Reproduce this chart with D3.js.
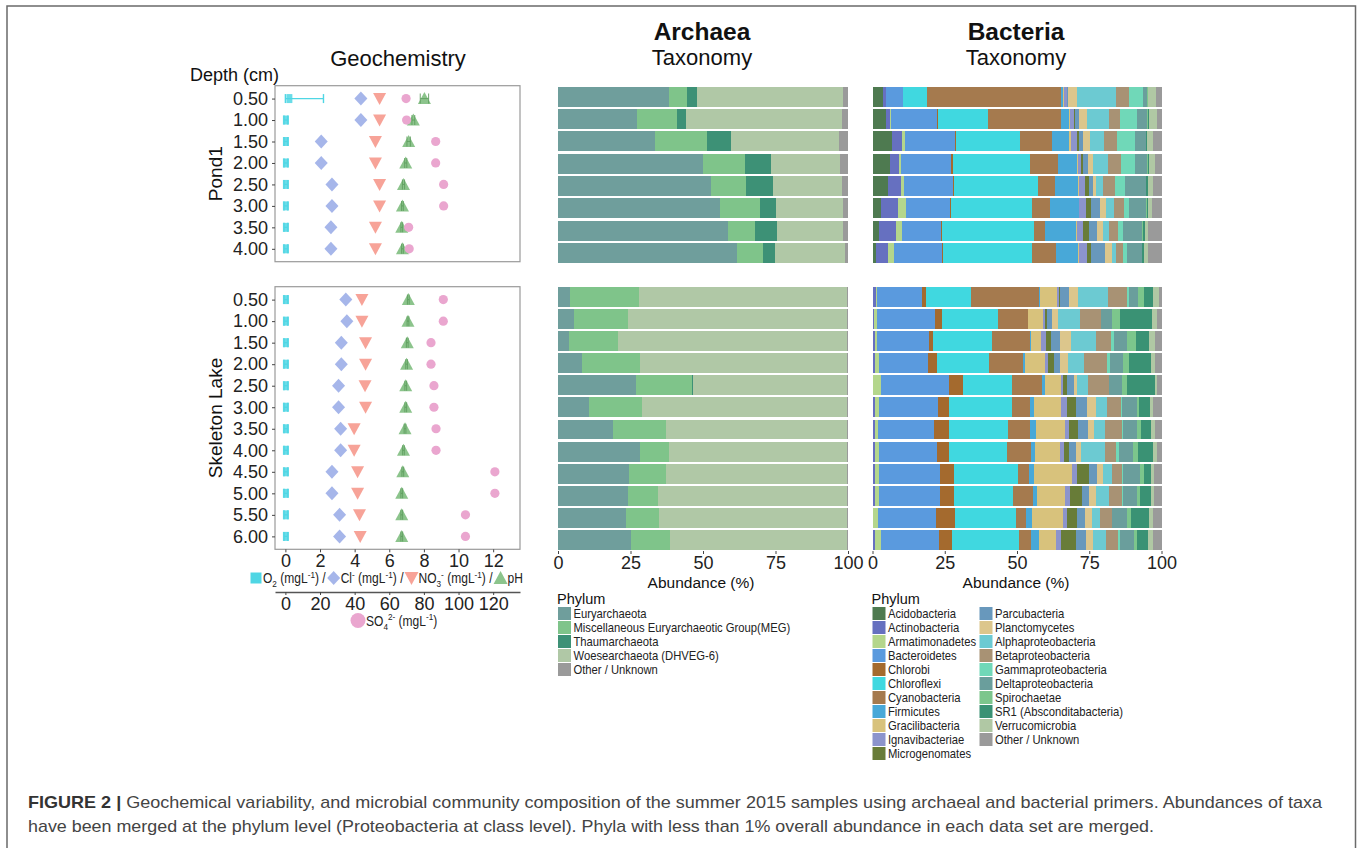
<!DOCTYPE html>
<html>
<head>
<meta charset="utf-8">
<script src="https://cdn.jsdelivr.net/npm/d3@7"></script>
<style>
  body { margin: 0; background: #fff; }
  svg text { font-family: "Liberation Sans", Arial, Helvetica, sans-serif; }
</style>
</head>
<body>
<svg id="fig" width="1360" height="848"></svg>
<script>
// ---------- depths ----------
const depthsPond = ["0.50", "1.00", "1.50", "2.00", "2.50", "3.00", "3.50", "4.00"];
const depthsSkeleton = ["0.50", "1.00", "1.50", "2.00", "2.50", "3.00", "3.50", "4.00", "4.50", "5.00", "5.50", "6.00"];

// ---------- geochemistry (O2, Cl-, NO3-, pH in their units; SO4 2- in mg/L) ----------
const o2Pond = [0.23, 0.03, 0.03, 0.03, 0.03, 0.03, 0.03, 0.03];
const o2LoPond = [0.0, -0.08, -0.08, -0.08, -0.08, -0.08, -0.08, -0.08];
const o2HiPond = [2.2, 0.14, 0.14, 0.14, 0.14, 0.14, 0.14, 0.14];
const clPond = [4.36, 4.36, 2.07, 2.07, 2.69, 2.69, 2.63, 2.63];
const no3Pond = [5.44, 5.44, 5.2, 5.2, 5.44, 5.44, 5.2, 5.2];
const phPond = [8.03, 7.39, 7.12, 6.95, 6.82, 6.76, 6.72, 6.76];
const phSdPond = [0.24, 0.08, 0.1, 0.06, 0.06, 0.05, 0.05, 0.05];
const so4Pond = [69.7, 70.0, 86.8, 86.8, 91.4, 91.4, 71.2, 71.5];

const o2Skeleton = [0.03, 0.03, 0.03, 0.03, 0.03, 0.03, 0.03, 0.03, 0.03, 0.03, 0.03, 0.03];
const o2LoSkeleton = [-0.08, -0.08, -0.08, -0.08, -0.08, -0.08, -0.08, -0.08, -0.08, -0.08, -0.08, -0.08];
const o2HiSkeleton = [0.14, 0.14, 0.14, 0.14, 0.14, 0.14, 0.14, 0.14, 0.14, 0.14, 0.14, 0.14];
const clSkeleton = [3.49, 3.55, 3.23, 3.23, 3.07, 3.07, 3.19, 3.19, 2.69, 2.69, 3.13, 3.13];
const no3Skeleton = [4.42, 4.42, 4.63, 4.63, 4.6, 4.63, 3.97, 3.97, 4.17, 4.17, 4.28, 4.32];
const phSkeleton = [7.1, 7.08, 7.04, 7.0, 6.95, 6.95, 6.91, 6.82, 6.78, 6.72, 6.72, 6.72];
const phSdSkeleton = [0.05, 0.05, 0.05, 0.05, 0.05, 0.05, 0.05, 0.05, 0.05, 0.05, 0.05, 0.05];
const so4Skeleton = [91.2, 91.2, 84.1, 84.1, 85.8, 85.8, 87.0, 87.0, 121.0, 121.0, 104.0, 104.0];

const geoTicks = [0, 2, 4, 6, 8, 10, 12];
const so4Ticks = [0, 20, 40, 60, 80, 100, 120];

// ---------- archaea (% abundance) ----------
const archaeaPhyla = ["Euryarchaeota", "Miscellaneous Euryarchaeotic Group(MEG)", "Thaumarchaeota",
  "Woesearchaeota (DHVEG-6)", "Other / Unknown"];
const archaeaColors = ["#6f9e9c", "#7fc48a", "#3d9176", "#b0c8a6", "#9a9a9a"];
const archaeaPond = [
  [38.2, 6.2, 3.7, 50.2, 1.7],
  [27.4, 13.6, 3.0, 54.0, 2.0],
  [33.4, 18.0, 8.3, 37.3, 3.0],
  [49.9, 14.5, 9.0, 23.8, 2.8],
  [52.7, 12.2, 9.3, 23.6, 2.2],
  [55.8, 13.8, 5.7, 23.1, 1.6],
  [58.5, 9.3, 7.7, 22.8, 1.7],
  [61.7, 9.0, 4.2, 24.1, 1.0]
];
const archaeaSkeleton = [
  [4.3, 23.7, 0.0, 71.8, 0.2],
  [5.5, 18.5, 0.0, 75.8, 0.2],
  [3.8, 16.9, 0.0, 79.1, 0.2],
  [8.3, 19.9, 0.0, 71.6, 0.2],
  [27.0, 19.3, 0.4, 52.9, 0.4],
  [10.8, 18.1, 0.0, 70.8, 0.3],
  [18.8, 18.4, 0.0, 62.6, 0.2],
  [28.2, 10.2, 0.0, 61.4, 0.2],
  [24.4, 13.0, 0.0, 62.4, 0.2],
  [24.2, 10.4, 0.0, 65.2, 0.2],
  [23.6, 11.2, 0.0, 64.8, 0.4],
  [25.2, 13.4, 0.0, 61.2, 0.2]
];

// ---------- bacteria (% abundance) ----------
const bacteriaPhyla = ["Acidobacteria", "Actinobacteria", "Armatimonadetes", "Bacteroidetes", "Chlorobi",
  "Chloroflexi", "Cyanobacteria", "Firmicutes", "Gracilibacteria", "Ignavibacteriae", "Microgenomates",
  "Parcubacteria", "Planctomycetes", "Alphaproteobacteria", "Betaproteobacteria", "Gammaproteobacteria",
  "Deltaproteobacteria", "Spirochaetae", "SR1 (Absconditabacteria)", "Verrucomicrobia", "Other / Unknown"];
const bacteriaColors = ["#4e7a50", "#6670c0", "#b4d68c", "#5a9ade", "#a46a2e", "#40d8e0", "#a57a4e",
  "#48a8d8", "#d8c27c", "#8c94cc", "#687c38", "#6898bc", "#dcc68c", "#6ccad2", "#a89274", "#70d8b8",
  "#6a9e9c", "#7cc68c", "#3a9274", "#b0c8a4", "#9a9a9a"];
const bacteriaPond = [
  [3.6, 1.1, 0.0, 5.7, 0.1, 8.3, 46.4, 0.8, 0.3, 0.9, 0.2, 0.2, 3.3, 13.3, 4.6, 4.9, 1.3, 0.2, 0.2, 2.6, 2.0],
  [4.7, 1.2, 0.6, 15.9, 0.3, 17.4, 25.1, 2.8, 0.3, 1.4, 0.3, 1.4, 2.7, 7.6, 3.9, 5.8, 3.6, 0.4, 0.2, 2.7, 1.7],
  [6.8, 3.3, 1.2, 17.2, 0.4, 22.0, 11.3, 5.9, 0.6, 2.0, 0.6, 1.4, 2.4, 5.1, 4.4, 6.1, 3.8, 0.3, 0.2, 1.9, 3.1],
  [5.9, 3.4, 0.5, 17.4, 0.7, 26.5, 9.9, 6.4, 0.4, 1.1, 0.5, 1.8, 1.9, 5.1, 4.4, 4.9, 4.2, 0.4, 0.2, 2.1, 2.3],
  [5.5, 4.3, 1.1, 17.1, 0.2, 29.1, 5.8, 8.1, 0.4, 2.0, 1.2, 1.4, 1.0, 2.5, 4.1, 3.6, 7.1, 0.2, 0.7, 1.7, 2.9],
  [2.9, 5.9, 2.8, 15.2, 0.3, 28.1, 6.2, 9.9, 0.3, 2.4, 1.6, 3.1, 2.2, 2.6, 3.5, 1.7, 6.1, 0.2, 0.5, 1.2, 3.3],
  [2.2, 6.0, 1.9, 13.6, 0.3, 31.8, 3.9, 10.6, 0.6, 2.1, 1.9, 2.9, 2.0, 2.2, 2.9, 1.7, 6.8, 0.3, 0.5, 1.3, 4.5],
  [1.3, 3.9, 2.3, 16.6, 0.4, 30.8, 8.2, 7.5, 0.3, 2.8, 1.5, 4.8, 2.5, 1.2, 2.5, 1.6, 4.9, 0.3, 0.5, 1.4, 4.7]
];
const bacteriaSkeleton = [
  [0.3, 1.0, 0.4, 15.3, 1.4, 15.8, 23.5, 0.4, 5.6, 0.9, 0.2, 3.2, 3.1, 10.4, 6.4, 0.7, 3.2, 2.1, 3.2, 2.1, 0.8],
  [0.2, 0.4, 0.9, 20.0, 2.7, 19.2, 10.3, 0.2, 5.1, 0.7, 0.6, 1.7, 2.3, 7.4, 7.2, 0.2, 3.6, 2.8, 11.3, 1.5, 1.7],
  [0.3, 0.5, 0.9, 17.8, 1.5, 20.2, 13.3, 0.5, 3.2, 1.7, 1.9, 3.1, 3.9, 8.4, 5.3, 1.0, 4.6, 3.1, 4.4, 2.1, 2.3],
  [0.3, 0.6, 1.2, 17.1, 3.0, 18.1, 11.9, 0.7, 6.9, 0.8, 2.2, 2.2, 2.5, 5.8, 8.0, 0.8, 4.5, 2.3, 7.3, 1.7, 2.1],
  [0.2, 0.1, 2.8, 23.3, 4.8, 17.0, 10.3, 1.2, 5.4, 0.7, 1.5, 2.3, 1.1, 3.8, 7.3, 0.2, 4.4, 1.8, 9.5, 0.6, 1.7],
  [0.3, 0.5, 1.4, 20.3, 4.1, 21.8, 6.0, 1.4, 9.5, 1.9, 3.2, 3.7, 3.4, 3.5, 4.9, 0.6, 5.1, 0.7, 3.7, 1.1, 2.9],
  [0.3, 0.7, 0.8, 19.5, 5.3, 20.3, 7.7, 2.0, 9.9, 1.5, 3.0, 3.4, 2.3, 3.8, 5.7, 0.6, 4.8, 1.3, 3.3, 1.4, 2.4],
  [0.3, 0.7, 1.1, 20.3, 3.9, 20.1, 8.4, 1.4, 8.7, 1.2, 1.9, 2.4, 1.6, 8.3, 4.1, 0.9, 4.7, 1.9, 5.2, 1.5, 1.4],
  [0.3, 0.5, 1.6, 20.8, 5.1, 22.0, 4.0, 1.5, 13.3, 1.5, 4.3, 2.7, 2.2, 2.9, 3.8, 0.2, 5.8, 1.3, 2.5, 1.2, 2.5],
  [0.2, 0.7, 1.4, 20.9, 5.1, 20.2, 7.0, 1.5, 9.6, 1.6, 4.3, 2.5, 2.2, 4.5, 4.8, 0.3, 4.7, 1.0, 3.9, 1.0, 2.6],
  [0.1, 0.2, 1.7, 19.9, 6.7, 20.9, 3.7, 2.0, 10.6, 1.6, 3.3, 2.7, 2.4, 2.9, 4.0, 0.3, 5.2, 1.4, 6.1, 1.4, 2.9],
  [0.3, 0.4, 2.2, 20.1, 4.5, 23.2, 4.1, 2.7, 5.9, 1.8, 5.2, 3.4, 2.6, 4.5, 4.2, 0.5, 5.0, 0.8, 3.9, 1.8, 2.9]
];
const abundanceTicks = [0, 25, 50, 75, 100];

// ---------- marker styling ----------
const cO2 = "#4fd6e4", cCl = "#a6b6ea", cNO3 = "#f7a398", cSO4 = "#eaa6cf", cPH = "#8cc48c", cPHbar = "#5e9e5e";
const shapeDiamond = "M0,-7L6.5,0L0,7L-6.5,0Z";
const shapeDown = "M-6.5,-5.5L6.5,-5.5L0,6.5Z";
const shapeUp = "M-6.5,5.5L6.5,5.5L0,-6.5Z";
const shapeSquare = "M-3,-4.5L3,-4.5L3,4.5L-3,4.5Z";

const svg = d3.select("#fig");
const FONT_TICK = 18;
const NARROW = 0.9; // horizontal squeeze of legend lettering

// outer frame of the figure
svg.append("rect").attr("x", 7).attr("y", 6).attr("width", 1348.5).attr("height", 880)
  .attr("fill", "none").attr("stroke", "#6a6a6a").attr("stroke-width", 1.5);

// ---------- titles ----------
function title(x, y, txt, size, weight) {
  svg.append("text").attr("x", x).attr("y", y).attr("text-anchor", "middle")
    .attr("font-size", size).attr("font-weight", weight || "normal").attr("fill", "#111").text(txt);
}
title(398, 66, "Geochemistry", 22);
title(702, 40, "Archaea", 24.5, "bold");
title(702, 65, "Taxonomy", 22);
title(1016, 40, "Bacteria", 24.5, "bold");
title(1016, 65, "Taxonomy", 22);
svg.append("text").attr("x", 190).attr("y", 81).attr("font-size", 18).attr("fill", "#111").text("Depth (cm)");

function styleAxis(a) {
  a.selectAll("line").attr("stroke", "#444");
  a.selectAll("text").attr("font-size", FONT_TICK).attr("fill", "#222")
    .attr("font-family", "Liberation Sans, Arial, sans-serif");
}

// ---------- geochemistry panels ----------
const xGeo = d3.scaleLinear().domain([-0.6, 13.55]).range([275, 520]);
const xSO4 = d3.scaleLinear().domain([-6, 135.5]).range([275, 520]);

function geoPanel(depths, yRange, d, siteLabel) {
  const y = d3.scalePoint().domain(depths).range(yRange).padding(0.6);
  const g = svg.append("g");
  g.append("rect").attr("x", xGeo.range()[0]).attr("y", yRange[0])
    .attr("width", xGeo.range()[1] - xGeo.range()[0]).attr("height", yRange[1] - yRange[0])
    .attr("fill", "#fff").attr("stroke", "#9a9a9a").attr("stroke-width", 1.2);

  const ax = g.append("g").attr("transform", `translate(${xGeo.range()[0]},0)`)
    .call(d3.axisLeft(y).tickSize(3).tickPadding(4));
  ax.select(".domain").remove();
  styleAxis(ax);

  const rows = depths.map((dep, i) => ({
    dep, o2: d.o2[i], o2lo: d.o2lo[i], o2hi: d.o2hi[i], cl: d.cl[i], no3: d.no3[i],
    ph: d.ph[i], phsd: d.phsd[i], so4: d.so4[i]
  }));

  // O2 error bars and squares
  const eb = g.selectAll("g.o2").data(rows).join("g").attr("class", "o2");
  eb.append("line").attr("x1", r => xGeo(r.o2lo)).attr("x2", r => xGeo(r.o2hi))
    .attr("y1", r => y(r.dep)).attr("y2", r => y(r.dep)).attr("stroke", cO2).attr("stroke-width", 1.4);
  [r => r.o2lo, r => r.o2hi].forEach(f => {
    eb.append("line").attr("x1", r => xGeo(f(r))).attr("x2", r => xGeo(f(r)))
      .attr("y1", r => y(r.dep) - 4.5).attr("y2", r => y(r.dep) + 4.5)
      .attr("stroke", cO2).attr("stroke-width", 1.4);
  });
  eb.append("path").attr("d", shapeSquare)
    .attr("transform", r => `translate(${xGeo(r.o2)},${y(r.dep)})`).attr("fill", cO2).attr("opacity", 0.85);

  // chloride
  g.selectAll("path.cl").data(rows).join("path").attr("class", "cl").attr("d", shapeDiamond)
    .attr("transform", r => `translate(${xGeo(r.cl)},${y(r.dep)})`).attr("fill", cCl);
  // nitrate
  g.selectAll("path.no3").data(rows).join("path").attr("class", "no3").attr("d", shapeDown)
    .attr("transform", r => `translate(${xGeo(r.no3)},${y(r.dep)})`).attr("fill", cNO3);
  // pH with error bars
  const ph = g.selectAll("g.ph").data(rows).join("g").attr("class", "ph");
  ph.append("path").attr("d", shapeUp)
    .attr("transform", r => `translate(${xGeo(r.ph)},${y(r.dep)})`).attr("fill", cPH);
  ph.append("line").attr("x1", r => xGeo(r.ph - r.phsd)).attr("x2", r => xGeo(r.ph + r.phsd))
    .attr("y1", r => y(r.dep)).attr("y2", r => y(r.dep)).attr("stroke", cPHbar).attr("stroke-width", 1.1).attr("opacity", 0.8);
  [r => r.ph - r.phsd, r => r.ph + r.phsd].forEach(f => {
    ph.append("line").attr("x1", r => xGeo(f(r))).attr("x2", r => xGeo(f(r)))
      .attr("y1", r => y(r.dep) - 5).attr("y2", r => y(r.dep) + 5)
      .attr("stroke", cPHbar).attr("stroke-width", 1.1).attr("opacity", 0.8);
  });
  // sulfate, on the secondary scale
  g.selectAll("circle.so4").data(rows).join("circle").attr("class", "so4")
    .attr("cx", r => xSO4(r.so4)).attr("cy", r => y(r.dep)).attr("r", 4.6).attr("fill", cSO4);

  // site label
  const cy = (yRange[0] + yRange[1]) / 2;
  svg.append("text").attr("transform", `translate(222,${cy}) rotate(-90)`).attr("text-anchor", "middle")
    .attr("font-size", 19).attr("fill", "#111").text(siteLabel);
  return y;
}

geoPanel(depthsPond, [85.7, 261.7], {
  o2: o2Pond, o2lo: o2LoPond, o2hi: o2HiPond, cl: clPond, no3: no3Pond, ph: phPond, phsd: phSdPond, so4: so4Pond
}, "Pond1");
geoPanel(depthsSkeleton, [286.7, 549.3], {
  o2: o2Skeleton, o2lo: o2LoSkeleton, o2hi: o2HiSkeleton, cl: clSkeleton, no3: no3Skeleton,
  ph: phSkeleton, phsd: phSdSkeleton, so4: so4Skeleton
}, "Skeleton Lake");

// primary x axis
const axGeo = svg.append("g").attr("transform", "translate(0,549.3)")
  .call(d3.axisBottom(xGeo).tickValues(geoTicks).tickSize(3).tickPadding(2));
axGeo.select(".domain").remove();
styleAxis(axGeo);

// secondary x axis for sulfate
const axSO4 = svg.append("g").attr("transform", "translate(0,592)")
  .call(d3.axisBottom(xSO4).tickValues(so4Ticks).tickSize(3).tickPadding(2).tickSizeOuter(0));
axSO4.select(".domain").attr("stroke", "#555").attr("stroke-width", 1.3);
styleAxis(axSO4);

// rich text helper: parts of [string, "n" | "sub" | "sup"]
function richText(sel, parts, size) {
  let shift = 0;
  parts.forEach(([s, kind]) => {
    const target = kind === "sub" ? size * 0.3 : kind === "sup" ? -size * 0.38 : 0;
    sel.append("tspan").attr("dy", target - shift).attr("font-size", kind === "n" ? size : size * 0.68).text(s);
    shift = target;
  });
}

// geochemistry legend row
(function () {
  const size = 14, yC = 578, squeeze = 0.86;
  const items = [
    { shape: "M-5.5,-5.5L5.5,-5.5L5.5,5.5L-5.5,5.5Z", color: cO2, parts: [["O", "n"], ["2", "sub"], [" (mgL", "n"], ["-1", "sup"], [") /", "n"]] },
    { shape: shapeDiamond, color: cCl, parts: [["Cl", "n"], ["-", "sup"], [" (mgL", "n"], ["-1", "sup"], [") /", "n"]] },
    { shape: "M-7,-6L7,-6L0,7Z", color: cNO3, parts: [["NO", "n"], ["3", "sub"], ["-", "sup"], [" (mgL", "n"], ["-1", "sup"], [") /", "n"]] },
    { shape: "M-7,6L7,6L0,-7Z", color: cPH, parts: [["pH", "n"]] }
  ];
  let cx = 250;
  items.forEach(it => {
    svg.append("path").attr("d", it.shape).attr("fill", it.color).attr("transform", `translate(${cx + 6},${yC})`);
    const t = svg.append("text").attr("transform", `translate(${cx + 13},${yC + 5}) scale(${squeeze},1)`).attr("fill", "#222");
    richText(t, it.parts, size);
    cx += 13 + t.node().getComputedTextLength() * squeeze + 2;
  });
  svg.append("circle").attr("cx", 358).attr("cy", 620.5).attr("r", 7.5).attr("fill", cSO4);
  const t2 = svg.append("text").attr("transform", `translate(366,625.5) scale(${squeeze},1)`).attr("fill", "#222");
  richText(t2, [["SO", "n"], ["4", "sub"], ["2-", "sup"], [" (mgL", "n"], ["-1", "sup"], [")", "n"]], size);
})();

// ---------- stacked abundance bars ----------
function barPanel(x, depths, yRange, rows, keys, colors) {
  const y = d3.scaleBand().domain(depths).range(yRange).paddingInner(0.1).paddingOuter(0);
  const table = rows.map((r, i) => {
    const o = { depth: depths[i] };
    keys.forEach((k, j) => { o[k] = r[j]; });
    return o;
  });
  const series = d3.stack().keys(keys)(table);
  svg.append("g").selectAll("g").data(series).join("g").attr("fill", (s, i) => colors[i])
    .selectAll("rect").data(s => s).join("rect")
    .attr("x", d => x(d[0])).attr("width", d => Math.max(0, x(d[1]) - x(d[0])))
    .attr("y", d => y(d.data.depth)).attr("height", y.bandwidth())
    .attr("shape-rendering", "crispEdges");
}

function abundanceAxis(x, cx) {
  const a = svg.append("g").attr("transform", "translate(0,551)")
    .call(d3.axisBottom(x).tickValues(abundanceTicks).tickSize(3).tickPadding(2));
  a.select(".domain").remove();
  styleAxis(a);
  svg.append("text").attr("x", cx).attr("y", 588).attr("text-anchor", "middle").attr("font-size", 15.5)
    .attr("fill", "#111").text("Abundance (%)");
}

const xArch = d3.scaleLinear().domain([0, 100]).range([558, 848]);
const xBact = d3.scaleLinear().domain([0, 100]).range([872.5, 1161.5]);

barPanel(xArch, depthsPond, [86.7, 263], archaeaPond, archaeaPhyla, archaeaColors);
barPanel(xArch, depthsSkeleton, [286.7, 550.2], archaeaSkeleton, archaeaPhyla, archaeaColors);
barPanel(xBact, depthsPond, [86.7, 263], bacteriaPond, bacteriaPhyla, bacteriaColors);
barPanel(xBact, depthsSkeleton, [286.7, 550.2], bacteriaSkeleton, bacteriaPhyla, bacteriaColors);
abundanceAxis(xArch, 701);
abundanceAxis(xBact, 1016);

// ---------- legends ----------
function legend(x0, names, colors, perColumn, colWidth) {
  svg.append("text").attr("x", x0 - 1).attr("y", 604).attr("font-size", 14.5).attr("fill", "#111").text("Phylum");
  const step = 14;
  names.forEach((n, i) => {
    const col = Math.floor(i / perColumn), row = i % perColumn;
    const xx = x0 + col * colWidth, yy = 613.5 + row * step;
    svg.append("rect").attr("x", xx).attr("y", yy - 6.5).attr("width", 13).attr("height", 13).attr("fill", colors[i]);
    svg.append("text").attr("transform", `translate(${xx + 15.5},${yy + 4.5}) scale(${NARROW},1)`)
      .attr("font-size", 12.5).attr("fill", "#222").text(n);
  });
}
legend(558, archaeaPhyla, archaeaColors, 5, 0);
legend(872.5, bacteriaPhyla, bacteriaColors, 11, 107);

// ---------- caption ----------
const cap1 = svg.append("text").attr("x", 28).attr("y", 808).attr("font-size", 17)
  .attr("fill", "#444").attr("textLength", 1294).attr("lengthAdjust", "spacingAndGlyphs");
cap1.append("tspan").attr("font-weight", "bold").attr("fill", "#333").text("FIGURE 2 | ");
cap1.append("tspan").text("Geochemical variability, and microbial community composition of the summer 2015 samples using archaeal and bacterial primers. Abundances of taxa");
svg.append("text").attr("x", 28).attr("y", 832).attr("font-size", 17).attr("fill", "#444")
  .attr("textLength", 1126).attr("lengthAdjust", "spacingAndGlyphs")
  .text("have been merged at the phylum level (Proteobacteria at class level). Phyla with less than 1% overall abundance in each data set are merged.");
</script>
</body>
</html>
